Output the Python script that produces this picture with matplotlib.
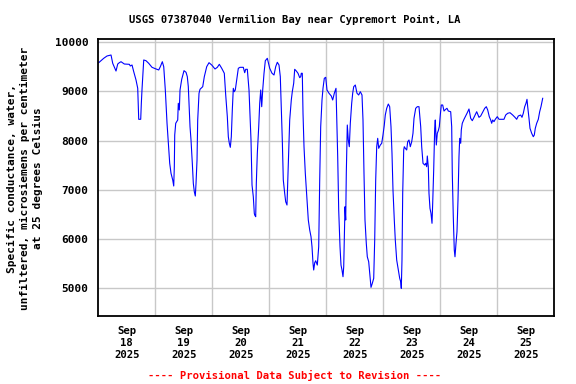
import matplotlib
matplotlib.use("Agg")
import matplotlib.pyplot as plt
import matplotlib.dates as mdates
import numpy as np

# hours since 2025-09-18 00:00 and specific conductance (uS/cm @ 25C)
hours = [
    0.17, 2.27, 3.66, 5.35, 6.06, 7.45, 8.17, 8.84, 9.56, 10.95, 13.05, 13.47, 14.19, 14.91,
    15.87, 16.59, 16.84, 17.01, 17.85, 18.11, 18.40, 19.12, 20.08, 21.22, 22.61, 24.0, 25.43,
    26.11, 26.95, 27.54, 28.21, 28.93, 29.35, 30.06, 30.61, 31.33, 31.75, 32.0, 32.17, 32.59,
    33.43, 33.68, 34.11, 34.4, 35.12, 36.08, 36.93, 37.47, 37.89, 38.61, 39.03, 39.58, 40.0,
    40.42, 40.84, 41.14, 41.56, 41.85, 42.4, 42.82, 43.96, 44.63, 45.64, 46.61, 47.75, 49.14,
    50.11, 50.95, 51.96, 53.05, 53.64, 54.32, 54.74, 55.16, 55.58, 56.0, 56.42, 56.84, 57.26,
    57.68, 58.27, 58.95, 59.66, 61.05, 61.64, 62.06, 62.74, 63.45, 64.29, 64.72, 65.26, 65.68,
    65.85, 66.27, 66.53, 66.95, 67.54, 67.96, 68.38, 68.8, 69.22, 69.77, 70.32, 71.16, 72.17,
    73.14, 73.98, 74.69, 75.37, 76.08, 76.63, 77.05, 77.47, 77.89, 78.48, 78.9, 79.45, 79.75,
    80.17, 80.59, 81.26, 81.68, 82.27, 82.69, 83.37, 84.08, 84.8, 85.22, 85.47, 85.89, 86.19,
    86.61, 87.16, 87.87, 88.42, 89.01, 89.56, 89.98, 90.4, 90.69, 91.12, 91.54, 92.21, 92.8,
    93.22, 93.64, 94.19, 94.61, 95.16, 95.75, 96.29, 97.14, 98.1, 98.69, 99.37, 100.08, 100.38,
    100.8, 101.22, 101.77, 102.19, 102.61, 103.03, 103.33, 103.58, 103.87, 104.17, 104.42,
    104.84, 105.26, 105.68, 106.11, 106.69, 107.11, 107.54, 108.21, 108.93, 109.64, 110.32,
    111.03, 111.45, 111.87, 112.29, 112.84, 113.26, 113.85, 114.4, 114.82, 115.37, 115.96,
    116.38, 116.8, 117.22, 117.64, 118.06, 118.74, 119.33, 119.87, 120.42, 120.84, 121.43,
    122.11, 122.69, 123.24, 123.66, 124.08, 124.63, 125.05, 125.64, 126.32, 126.91, 127.33,
    127.58, 127.87, 128.17, 128.59, 128.84, 129.26, 129.85, 130.27, 130.82, 131.37, 131.96,
    132.5, 132.93, 133.64, 134.32, 135.03, 135.75, 136.17, 136.72, 137.43, 137.85, 138.27,
    138.53, 138.95, 139.24, 139.66, 140.08, 140.51, 140.8, 141.22, 141.64, 141.89, 142.32,
    142.74, 143.16, 143.58, 144.0, 144.42, 145.01, 145.56, 146.27, 146.82, 147.37, 148.38,
    148.8, 149.05, 149.47, 149.89, 150.19, 150.61, 151.03, 151.45, 151.87, 152.17, 152.59,
    152.84, 153.26, 153.98, 154.69, 155.37, 156.08, 156.8, 157.47, 158.19, 159.33, 160.29,
    161.01, 161.98, 162.7, 163.37, 163.96, 164.63, 165.22, 165.64, 166.06, 166.61, 167.16,
    168.0, 168.72, 169.85, 170.82, 171.54, 172.38, 173.35, 174.48, 175.45, 176.17, 176.84,
    177.85, 178.4, 178.95, 179.54, 180.08, 180.51, 180.8, 181.35, 181.77, 182.48, 183.16,
    183.58, 184.0, 184.59, 185.27, 185.85, 186.4, 187.12,
]
conductance = [
    9580, 9669, 9716, 9736, 9567, 9411, 9553, 9580, 9600, 9553, 9547, 9513, 9533, 9397,
    9229, 9060, 8721, 8431, 8431, 8756, 9040, 9635, 9620, 9567, 9486, 9458, 9432,
    9499, 9600, 9499, 9026, 8350, 8045, 7538, 7335, 7199, 7077, 7469, 8112, 8350,
    8417, 8756, 8620, 9026, 9243, 9418, 9385, 9296, 9093, 8281, 8011, 7538, 7132,
    6961, 6874, 7132, 7605, 8417, 8959, 9040, 9093, 9296, 9499, 9580, 9533, 9452,
    9486, 9547, 9466, 9365, 8924, 8484, 8078, 7944, 7862, 8078, 8620, 9060, 8991,
    9026, 9229, 9466, 9486, 9486, 9377, 9446, 9446, 9026, 8011, 7097, 6860, 6522,
    6488, 6454, 7132, 7741, 8281, 8756, 9026, 8687, 9026, 9365, 9620, 9669, 9466,
    9365, 9330, 9499, 9588, 9533, 9296, 8687, 8011, 7199, 6928, 6758, 6691, 7132,
    7808, 8417, 8823, 8991, 9162, 9446, 9411, 9365, 9276, 9296, 9365, 9365, 8553,
    7875, 7335, 6793, 6387, 6184, 6048, 5845, 5508, 5372, 5520, 5560, 5473, 5845,
    7199, 8281, 8823, 9060, 9263, 9283, 9026, 8959, 8904, 8823, 8959, 9060, 8484,
    7673, 6590, 5845, 5473, 5372, 5236, 5439, 6048, 6656, 6387, 7335,
    8315, 8011, 7875, 8350, 8756, 8959, 9093, 9127, 8959, 8924, 8991,
    8924, 8417, 7335, 6387, 5912, 5641, 5540, 5236, 5020, 5101, 5203,
    5981, 7199, 7875, 8045, 7842, 7909, 7944, 8112, 8315, 8518, 8654,
    8741, 8687, 8281, 7741, 6996, 6387, 5981, 5575, 5372, 5203, 5134,
    5000, 5575, 6928, 7808, 7875, 7842, 7808, 7976, 8011, 7875, 7976,
    8147, 8451, 8654, 8687, 8687, 8281, 7875, 7538, 7503, 7538, 7469,
    7686, 7469, 6928, 6624, 6522, 6320, 6726, 7401, 8248, 8417, 7909,
    8147, 8200, 8281, 8518, 8721, 8721, 8599, 8634, 8654, 8599, 8585,
    8281, 7335, 6454, 5778, 5641, 5912, 6149, 6793, 7673, 8045, 7944,
    8214, 8350, 8431, 8498, 8565, 8640, 8451, 8403, 8471, 8585, 8471,
    8498, 8585, 8654, 8687, 8620, 8484, 8417, 8350, 8417, 8383, 8431,
    8484, 8431, 8431, 8431, 8518, 8553, 8565, 8518, 8471, 8431, 8498,
    8518, 8471, 8553, 8687, 8756, 8837, 8687, 8451, 8248, 8147, 8078,
    8112, 8248, 8350, 8431, 8585, 8687, 8857,
]
day_labels = ["Sep\n18\n2025", "Sep\n19\n2025", "Sep\n20\n2025", "Sep\n21\n2025",
              "Sep\n22\n2025", "Sep\n23\n2025", "Sep\n24\n2025", "Sep\n25\n2025"]
y_ticks = [5000, 6000, 7000, 8000, 9000, 10000]

start = np.datetime64("2025-09-18T00:00")
times = start + (np.array(hours) * 3600).astype("timedelta64[s]")
times = times.astype("datetime64[s]").astype(object)

mono = "DejaVu Sans Mono"
fig = plt.figure(figsize=(5.76, 3.84), dpi=100)
ax = fig.add_axes([0.1707, 0.177, 0.7916, 0.7207])

ax.plot(times, conductance, color="#0000ff", lw=0.8)

t0 = mdates.date2num(start.astype(object))
ax.set_xlim(t0, t0 + 8)
ax.set_ylim(4438, 10055)

# gridlines at midnight, date labels at noon
ax.set_xticks([t0 + d for d in range(1, 8)])
ax.set_xticklabels([])
ax.set_xticks([t0 + d + 0.5 for d in range(8)], minor=True)
ax.set_xticklabels(day_labels, minor=True, fontfamily=mono, fontweight="bold",
                   fontsize=7.7, linespacing=1.25)
ax.set_yticks(y_ticks)
ax.set_yticklabels([str(v) for v in y_ticks], fontfamily=mono, fontweight="bold", fontsize=8)
ax.tick_params(axis="both", which="both", length=0, pad=7)
ax.grid(True, which="major", color="#c8c8c8", lw=1)
ax.set_axisbelow(True)
for s in ax.spines.values():
    s.set_linewidth(1.3)
    s.set_color("black")

fig.text(0.043, 0.535, "Specific conductance, water,\nunfiltered, microsiemens per centimeter\nat 25 degrees Celsius",
         rotation=90, ha="center", va="center", fontfamily=mono, fontweight="bold",
         fontsize=8, linespacing=1.35)
fig.text(0.512, 0.948, "USGS 07387040 Vermilion Bay near Cypremort Point, LA",
         ha="center", va="center", fontfamily=mono, fontweight="bold", fontsize=7.6)
fig.text(0.512, 0.023, "---- Provisional Data Subject to Revision ----",
         ha="center", va="center", fontfamily=mono, fontweight="bold", fontsize=7.6, color="red")

fig.savefig("out.png", dpi=100)
